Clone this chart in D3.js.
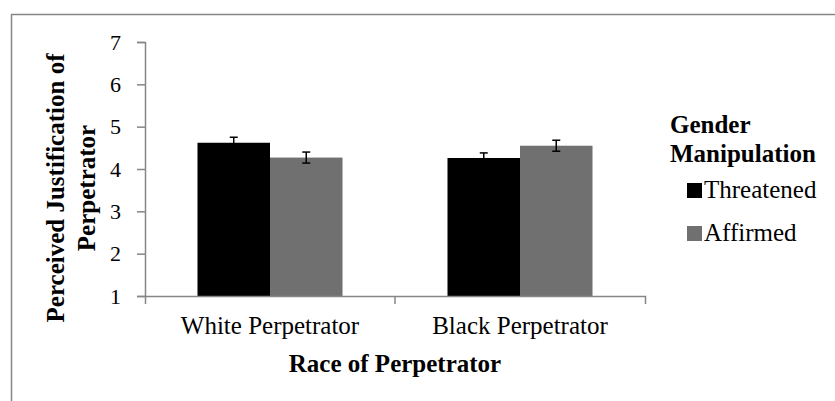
<!DOCTYPE html>
<html>
<head>
<meta charset="utf-8">
<script src="https://cdn.jsdelivr.net/npm/d3@7"></script>
<style>
  body { margin: 0; background: #fff; }
  svg { display: block; }
  svg text { font-family: "Liberation Serif", "Times New Roman", Times, serif; fill: #000; }
</style>
</head>
<body>
<svg id="chart" width="835" height="401"></svg>
<script>
//Chart values
var categories = ["White Perpetrator", "Black Perpetrator"];
var seriesNames = ["Threatened", "Affirmed"];
var threatenedMeans = [4.62, 4.26];
var affirmedMeans = [4.27, 4.55];
var threatenedErrors = [0.13, 0.12];
var affirmedErrors = [0.13, 0.13];
var yTicks = [1, 2, 3, 4, 5, 6, 7];
var seriesColours = ["#000000", "#707070"];

//Build rows for the grouped bars
var rows = [];
categories.forEach(function(c, i) {
  rows.push({cat: c, series: seriesNames[0], value: threatenedMeans[i], err: threatenedErrors[i]});
  rows.push({cat: c, series: seriesNames[1], value: affirmedMeans[i], err: affirmedErrors[i]});
});

var svg = d3.select("#chart");
var axisGrey = "#868686";

//Outer frame (only the top and left edges show in the picture)
svg.append("line").attr("x1", 11).attr("x2", 835).attr("y1", 14.5).attr("y2", 14.5)
  .attr("stroke", axisGrey).attr("stroke-width", 1.5);
svg.append("line").attr("x1", 11.5).attr("x2", 11.5).attr("y1", 14).attr("y2", 401)
  .attr("stroke", axisGrey).attr("stroke-width", 1.5);

var plot = {left: 145, right: 645, top: 42, bottom: 296};

//Scales
var x0 = d3.scaleBand().domain(categories).range([plot.left, plot.right]).paddingInner(0).paddingOuter(0);
var x1 = d3.scaleBand().domain(seriesNames).range([0, x0.bandwidth()]).paddingInner(0).paddingOuter(0.724);
var y = d3.scaleLinear().domain([1, 7]).range([plot.bottom, plot.top]);
var colour = d3.scaleOrdinal().domain(seriesNames).range(seriesColours);

//Bars
var g = svg.append("g");
g.selectAll("rect.bar")
  .data(rows)
  .enter().append("rect")
  .attr("class", "bar")
  .attr("x", function(d) { return x0(d.cat) + x1(d.series); })
  .attr("y", function(d) { return y(d.value); })
  .attr("width", x1.bandwidth())
  .attr("height", function(d) { return y(1) - y(d.value); })
  .attr("fill", function(d) { return colour(d.series); });

//Error bars
var errs = g.selectAll("g.err")
  .data(rows)
  .enter().append("g")
  .attr("class", "err")
  .attr("stroke", "#000")
  .attr("stroke-width", 1.5);

function cx(d) { return x0(d.cat) + x1(d.series) + x1.bandwidth() / 2; }

errs.append("line")
  .attr("x1", cx).attr("x2", cx)
  .attr("y1", function(d) { return y(d.value + d.err); })
  .attr("y2", function(d) { return y(d.value - d.err); });
errs.append("line")
  .attr("x1", function(d) { return cx(d) - 4; }).attr("x2", function(d) { return cx(d) + 4; })
  .attr("y1", function(d) { return y(d.value + d.err); })
  .attr("y2", function(d) { return y(d.value + d.err); });
errs.append("line")
  .attr("x1", function(d) { return cx(d) - 4; }).attr("x2", function(d) { return cx(d) + 4; })
  .attr("y1", function(d) { return y(d.value - d.err); })
  .attr("y2", function(d) { return y(d.value - d.err); });

//Y axis
var yAxis = svg.append("g")
  .attr("transform", "translate(" + plot.left + ",0)")
  .call(d3.axisLeft(y).tickValues(yTicks).tickFormat(d3.format("d")).tickSize(8).tickPadding(16));
yAxis.select(".domain").attr("stroke", axisGrey).attr("stroke-width", 1.5);
yAxis.selectAll(".tick line").attr("stroke", axisGrey).attr("stroke-width", 1.5);
yAxis.selectAll(".tick text")
  .attr("font-size", 22);

//X axis: line plus ticks on category boundaries
var xAxis = svg.append("g")
  .attr("transform", "translate(0," + plot.bottom + ")")
  .call(d3.axisBottom(x0).tickSizeInner(0).tickSizeOuter(8).tickPadding(0).tickFormat(""));
xAxis.select(".domain").attr("stroke", axisGrey).attr("stroke-width", 1.5);
xAxis.selectAll(".tick line").remove();

xAxis.selectAll("line.sep")
  .data(categories.slice(1))
  .enter().append("line")
  .attr("class", "sep")
  .attr("x1", function(d) { return x0(d); })
  .attr("x2", function(d) { return x0(d); })
  .attr("y1", 0).attr("y2", 8)
  .attr("stroke", axisGrey).attr("stroke-width", 1.5);

//Category labels
svg.selectAll("text.cat")
  .data(categories)
  .enter().append("text")
  .attr("class", "cat")
  .attr("x", function(d) { return x0(d) + x0.bandwidth() / 2; })
  .attr("y", 334)
  .attr("text-anchor", "middle")
  .attr("font-size", 25)
  .text(function(d) { return d; });

//X axis title
svg.append("text")
  .attr("x", (plot.left + plot.right) / 2)
  .attr("y", 371.5)
  .attr("text-anchor", "middle")
  .attr("font-size", 25)
  .attr("font-weight", "bold")
  .text("Race of Perpetrator");

//Y axis title, two lines rotated
var yTitle = svg.append("g")
  .attr("transform", "translate(0,188) rotate(-90)")
  .attr("text-anchor", "middle")
  .attr("font-size", 25)
  .attr("font-weight", "bold");
yTitle.append("text").attr("x", 0).attr("y", 63.5).text("Perceived Justification of");
yTitle.append("text").attr("x", 0).attr("y", 94.5).text("Perpetrator");

//Legend
var legend = svg.append("g");
legend.append("text").attr("x", 670).attr("y", 133).attr("font-size", 25).attr("font-weight", "bold").text("Gender");
legend.append("text").attr("x", 670).attr("y", 162).attr("font-size", 25).attr("font-weight", "bold").text("Manipulation");

var items = legend.selectAll("g.item")
  .data(seriesNames)
  .enter().append("g")
  .attr("class", "item")
  .attr("transform", function(d, i) { return "translate(0," + i * 43 + ")"; });

items.append("rect")
  .attr("x", 687)
  .attr("y", 183)
  .attr("width", 15)
  .attr("height", 15)
  .attr("fill", colour);

items.append("text")
  .attr("x", 704)
  .attr("y", 198)
  .attr("font-size", 25)
  .text(function(d) { return d; });
</script>
</body>
</html>
